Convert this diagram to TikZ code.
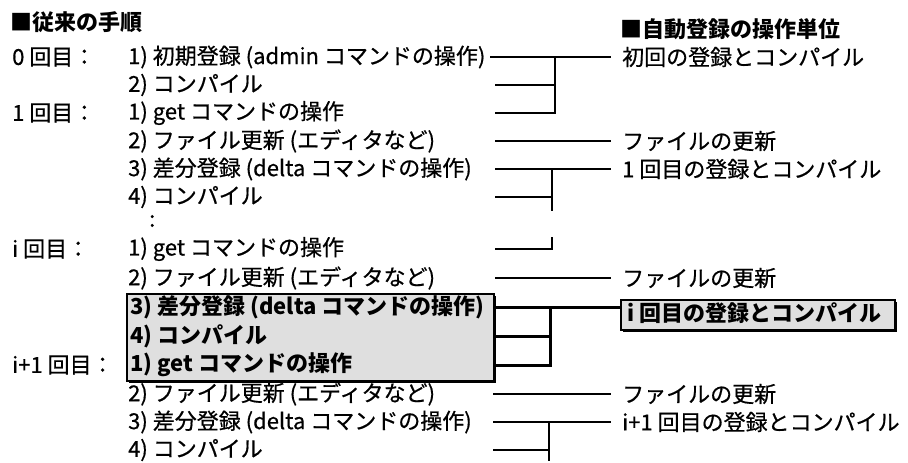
\documentclass[tikz,border=0pt]{standalone}
\usepackage{fontspec}
\setmainfont{Noto Sans CJK JP}
\newfontfamily\bodyfont{Noto Sans CJK JP}[FakeBold=0.6]
\usetikzlibrary{shadows}
\begin{document}
\begin{tikzpicture}[x=1pt,y=-1pt,
  txt/.style={anchor=west,inner sep=0pt,font=\fontsize{22}{24}\bodyfont},
  hd/.style={anchor=west,inner sep=0pt,font=\fontsize{22}{24}\selectfont\bfseries},
  ln/.style={line width=1.6pt},
  thk/.style={line width=3pt},
  shadebox/.style={fill=gray!25,draw=black,line width=2pt,
     drop shadow={shadow xshift=2pt,shadow yshift=-2pt,fill=black,opacity=1}},
  gap/.style={shorten >=11pt}]
\useasboundingbox (0,0) rectangle (908,463);

% titles
\node[hd] (t1) at (10,22) {■従来の手順};
\node[hd] (t2) at (620,29) {■自動登録の操作単位};

% shaded boxes
\node[shadebox,anchor=north west,minimum width=367pt,minimum height=87pt,inner sep=0pt] (ibox) at (126,293) {};
\node[shadebox,anchor=north west,minimum width=274pt,minimum height=30pt,inner sep=0pt] (R4) at (620,299) {};

% left labels
\node[txt] (L0) at (12,57) {0 回目：};
\node[txt] (L1) at (12,113) {1 回目：};
\node[txt] (Li) at (12,249) {i 回目：};
\node[txt] (Lj) at (12,365) {i+1 回目：};

% steps
\node[txt] (s01) at (128,57) {1) 初期登録 (admin コマンドの操作)};
\node[txt] (s02) at (128,85) {2) コンパイル};
\node[txt] (s11) at (128,113) {1) get コマンドの操作};
\node[txt] (s12) at (128,141) {2) ファイル更新 (エディタなど)};
\node[txt] (s13) at (128,169) {3) 差分登録 (delta コマンドの操作)};
\node[txt] (s14) at (128,197) {4) コンパイル};
\node[txt] (dots) at (149,221) {:};
\node[txt] (si1) at (128,249) {1) get コマンドの操作};
\node[txt] (si2) at (128,278) {2) ファイル更新 (エディタなど)};
\node[hd] (si3) at (130,307) {3) 差分登録 (delta コマンドの操作)};
\node[hd] (si4) at (130,336) {4) コンパイル};
\node[hd] (sj1) at (130,365) {1) get コマンドの操作};
\node[txt] (sj2) at (128,394) {2) ファイル更新 (エディタなど)};
\node[txt] (sj3) at (128,422) {3) 差分登録 (delta コマンドの操作)};
\node[txt] (sj4) at (128,450) {4) コンパイル};

% right column
\node[txt] (R0) at (622,57) {初回の登録とコンパイル};
\node[txt] (R1) at (622,141) {ファイルの更新};
\node[txt] (R2) at (622,169) {1 回目の登録とコンパイル};
\node[txt] (R3) at (622,278) {ファイルの更新};
\node[hd] (R4t) at (627,313) {i 回目の登録とコンパイル};
\node[txt] (R5) at (622,394) {ファイルの更新};
\node[txt] (R6) at (622,422) {i+1 回目の登録とコンパイル};

% connector start points
\coordinate (c01) at (490,57);
\coordinate (c02) at (495,85);
\coordinate (c11) at (495,113);
\coordinate (c12) at (495,141);
\coordinate (c13) at (495,169);
\coordinate (c14) at (495,197);
\coordinate (ci1) at (495,249);
\coordinate (ci2) at (495,278);
\coordinate (cj2) at (493,394);
\coordinate (cj3) at (493,422);
\coordinate (cj4) at (493,450);
% junctions
\coordinate (jA) at (555,57);
\coordinate (jB) at (552,169);
\coordinate (jBlow) at (552,211);
\coordinate (jBtop) at (552,237);
\coordinate (jC) at (550,307);
\coordinate (jD) at (549,422);
\coordinate (jDlow) at (549,461);

% bracket 0
\draw[ln,gap] (c01) -- (R0.west);
\draw[ln] (c02) -| (jA);
\draw[ln] (c11) -| (jA);
% file update 1
\draw[ln,gap] (c12) -- (R1.west);
% bracket 1
\draw[ln,gap] (c13) -- (R2.west);
\draw[ln] (jB) -- (jBlow);
\draw[ln] (c14) -- (c14 -| jB);
\draw[ln] (ci1) -| (jBtop);
% file update i
\draw[ln,gap] (ci2) -- (R3.west);
% bracket i (thick)
\draw[thk] (ibox.east |- si3.west) -- (R4.west |- si3.west);
\draw[thk] (ibox.east |- si4.west) -| (jC);
\draw[thk] (ibox.east |- sj1.west) -| (jC);
% file update i+1
\draw[ln,gap] (cj2) -- (R5.west);
% bracket i+1
\draw[ln,gap] (cj3) -- (R6.west);
\draw[ln] (jD) -- (jDlow);
\draw[ln] (cj4) -- (cj4 -| jD);
\end{tikzpicture}
\end{document}
